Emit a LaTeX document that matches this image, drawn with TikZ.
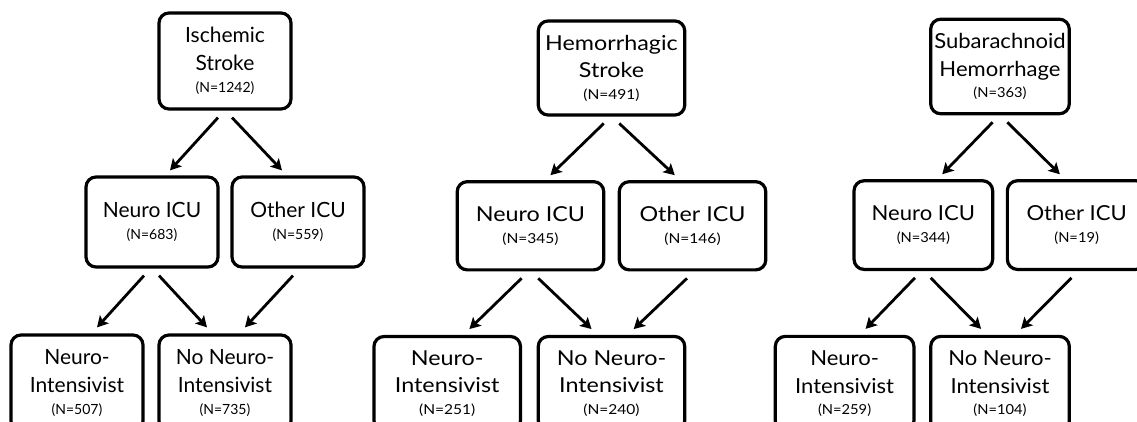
\documentclass[tikz,border=0pt]{standalone}
\usepackage{fontspec}
\setmainfont{Lato}
\usetikzlibrary{arrows.meta}

\begin{document}
\begin{tikzpicture}[x=0.5pt,y=-0.5pt,
  box/.style={draw, line width=1.6pt, rounded corners=5pt, align=center, inner sep=0pt,
    minimum width=66pt, font=\fontsize{10.5}{14}\selectfont},
  head/.style={box, minimum height=48pt},
  unit/.style={box, minimum height=45pt},
  arr/.style={line width=1.4pt, -{Stealth[length=5.5pt,width=6pt,inset=1.2pt]}}]
\useasboundingbox (0,0) rectangle (1137,422);
\clip (0,0) rectangle (1137,422);
% ischemic stroke
\begin{scope}[shift={(225,61)}]
\node[head] (isch) at (0,0) {Ischemic\\Stroke\\[-3pt]{\fontsize{7}{8}\selectfont (N=1242)}};
\node[unit] (ineuro) at (-73,161) {Neuro ICU\\[-3pt]{\fontsize{7}{8}\selectfont (N=683)}};
\node[unit] (iother) at (73,161) {Other ICU\\[-3pt]{\fontsize{7}{8}\selectfont (N=559)}};
\node[head] (ini) at (-148,322) {Neuro-\\Intensivist\\[-3pt]{\fontsize{7}{8}\selectfont (N=507)}};
\node[head] (inoni) at (0,322) {No Neuro-\\Intensivist\\[-3pt]{\fontsize{7}{8}\selectfont (N=735)}};
\draw[arr] ([xshift=-3.5pt,yshift=-3.5pt]isch.south) -- ([xshift=9pt,yshift=2.5pt]ineuro.north);
\draw[arr] ([xshift=3.5pt,yshift=-3.5pt]isch.south) -- ([xshift=-8pt,yshift=2.5pt]iother.north);
\draw[arr] ([xshift=-4pt,yshift=-3.5pt]ineuro.south) -- ([xshift=10pt,yshift=3pt]ini.north);
\draw[arr] ([xshift=3.5pt,yshift=-3.5pt]ineuro.south) -- ([xshift=-9pt,yshift=3pt]inoni.north);
\draw[arr] ([xshift=-2.5pt,yshift=-3.5pt]iother.south) -- ([xshift=10pt,yshift=3pt]inoni.north);
\end{scope}
% hemorrhagic stroke
\begin{scope}[shift={(611.5,68)},xscale=1.11,yscale=0.98,transform shape]
\node[head] (hem) at (0,0) {Hemorrhagic\\Stroke\\[-3pt]{\fontsize{7}{8}\selectfont (N=491)}};
\node[unit] (hneuro) at (-73,161) {Neuro ICU\\[-3pt]{\fontsize{7}{8}\selectfont (N=345)}};
\node[unit] (hother) at (73,161) {Other ICU\\[-3pt]{\fontsize{7}{8}\selectfont (N=146)}};
\node[head] (hni) at (-148,322) {Neuro-\\Intensivist\\[-3pt]{\fontsize{7}{8}\selectfont (N=251)}};
\node[head] (hnoni) at (0,322) {No Neuro-\\Intensivist\\[-3pt]{\fontsize{7}{8}\selectfont (N=240)}};
\draw[arr] ([xshift=-3.5pt,yshift=-3.5pt]hem.south) -- ([xshift=9pt,yshift=2.5pt]hneuro.north);
\draw[arr] ([xshift=3.5pt,yshift=-3.5pt]hem.south) -- ([xshift=-8pt,yshift=2.5pt]hother.north);
\draw[arr] ([xshift=-4pt,yshift=-3.5pt]hneuro.south) -- ([xshift=10pt,yshift=3pt]hni.north);
\draw[arr] ([xshift=3.5pt,yshift=-3.5pt]hneuro.south) -- ([xshift=-9pt,yshift=3pt]hnoni.north);
\draw[arr] ([xshift=-2.5pt,yshift=-3.5pt]hother.south) -- ([xshift=10pt,yshift=3pt]hnoni.north);
\end{scope}
% subarachnoid hemorrhage
\begin{scope}[shift={(1000,66.5)},xscale=1.05,yscale=0.985,transform shape]
\node[head] (sah) at (0,0) {Subarachnoid\\Hemorrhage\\[-3pt]{\fontsize{7}{8}\selectfont (N=363)}};
\node[unit] (sneuro) at (-73,161) {Neuro ICU\\[-3pt]{\fontsize{7}{8}\selectfont (N=344)}};
\node[unit] (sother) at (73,161) {Other ICU\\[-3pt]{\fontsize{7}{8}\selectfont (N=19)}};
\node[head] (sni) at (-148,322) {Neuro-\\Intensivist\\[-3pt]{\fontsize{7}{8}\selectfont (N=259)}};
\node[head] (snoni) at (0,322) {No Neuro-\\Intensivist\\[-3pt]{\fontsize{7}{8}\selectfont (N=104)}};
\draw[arr] ([xshift=-3.5pt,yshift=-3.5pt]sah.south) -- ([xshift=9pt,yshift=2.5pt]sneuro.north);
\draw[arr] ([xshift=3.5pt,yshift=-3.5pt]sah.south) -- ([xshift=-8pt,yshift=2.5pt]sother.north);
\draw[arr] ([xshift=-4pt,yshift=-3.5pt]sneuro.south) -- ([xshift=10pt,yshift=3pt]sni.north);
\draw[arr] ([xshift=3.5pt,yshift=-3.5pt]sneuro.south) -- ([xshift=-9pt,yshift=3pt]snoni.north);
\draw[arr] ([xshift=-2.5pt,yshift=-3.5pt]sother.south) -- ([xshift=10pt,yshift=3pt]snoni.north);
\end{scope}
\end{tikzpicture}
\end{document}
